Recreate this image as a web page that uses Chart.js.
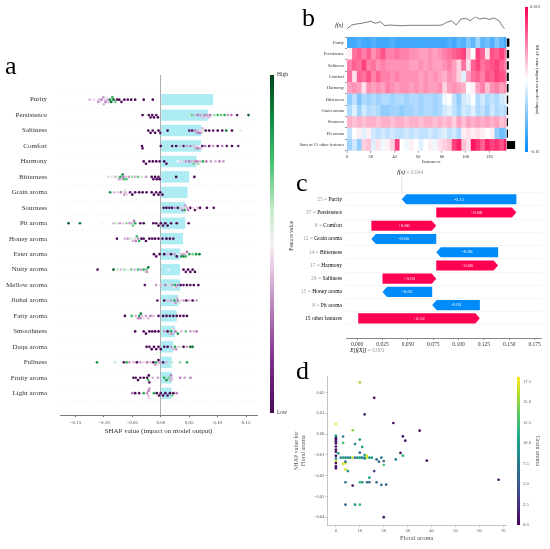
<!DOCTYPE html>
<html><head><meta charset="utf-8">
<script src="https://cdn.jsdelivr.net/npm/chart.js@4.4.1/dist/chart.umd.min.js"></script>
<style>
html,body{margin:0;padding:0;background:#fff;width:550px;height:549px;overflow:hidden;}
canvas{position:absolute;}
.lbl{position:absolute;font-family:'Liberation Serif',serif;line-height:1;white-space:nowrap;color:#000;}
</style></head><body>
<canvas id="ca" style="left:0px;top:60px" width="262" height="385"></canvas>
<canvas id="cacb" style="left:265px;top:60px" width="35" height="370"></canvas>
<canvas id="cbfx" style="left:340px;top:12px" width="175" height="22"></canvas>
<canvas id="cbh" style="left:285px;top:30px" width="235" height="140"></canvas>
<canvas id="cbcb" style="left:520px;top:0px" width="30" height="160"></canvas>
<canvas id="cc" style="left:285px;top:165px" width="262" height="195"></canvas>
<canvas id="cd" style="left:285px;top:365px" width="225" height="184"></canvas>
<canvas id="cdcb" style="left:510px;top:370px" width="40" height="165"></canvas>
<div class="lbl" style="left:5px;top:53px;font-size:26px">a</div>
<div class="lbl" style="left:302px;top:5px;font-size:26px">b</div>
<div class="lbl" style="left:296px;top:170px;font-size:26px">c</div>
<div class="lbl" style="left:296px;top:358px;font-size:26px">d</div>
<div class="lbl" style="left:324px;top:23px;font-size:5.5px;font-style:italic;width:19px;text-align:right">f(x)</div>
<div class="lbl" style="left:262px;top:233px;font-size:5.5px;color:#333;transform:rotate(-90deg);width:60px;text-align:center">Feature value</div>
<script>
// ---------------- DATA ----------------
// Panel a: SHAP summary (beeswarm) — feature order top to bottom
const aFeatures = ['Purity','Persistence','Saltiness','Comfort','Harmony','Bitterness','Grain aroma','Sourness','Pit aroma','Honey aroma','Ester aroma','Nutty aroma','Mellow aroma','Jiuhai aroma','Fatty aroma','Smoothness','Daqu aroma','Fullness','Fruity aroma','Light aroma'];
const aMeanAbs = [0.092,0.083,0.071,0.071,0.063,0.050,0.047,0.043,0.043,0.039,0.034,0.034,0.034,0.031,0.028,0.025,0.022,0.019,0.019,0.019];
const aTicks = [-0.15,-0.10,-0.05,0,0.05,0.10,0.15];
// [shap value, normalised feature value (0 low .. 1 high)]
const pPurity = [[-0.125,0.4],[-0.118,0.45],[-0.113,0.5],[-0.110,0.35],[-0.108,0.4],[-0.106,0.45],[-0.104,0.3],[-0.103,0.5],[-0.101,0.35],[-0.100,0.4],[-0.098,0.45],[-0.097,0.3],[-0.095,0.55],[-0.093,0.35],[-0.091,0.4],[-0.089,0.85],[-0.087,0.9],[-0.085,0.8],[-0.083,0.95],[-0.080,0.7],[-0.077,0.05],[-0.073,0],[-0.069,0.05],[-0.064,0],[-0.058,0.05],[-0.052,0],[-0.045,0],[-0.030,0],[-0.014,0]];
const pPersistence = [[-0.032,0],[-0.021,0],[-0.018,0.05],[-0.015,0],[-0.012,0],[-0.008,0.05],[-0.005,0],[0.050,0.6],[0.055,0.7],[0.060,0.4],[0.065,0.3],[0.070,0.35],[0.074,0.4],[0.077,0.3],[0.080,0.45],[0.082,0.35],[0.084,0.4],[0.087,0.3],[0.090,0.5],[0.094,0.65],[0.100,0.75],[0.106,0.7],[0.112,0.8],[0.118,0.35],[0.124,0.3],[0.134,0.1],[0.154,0.95]];
const pSaltiness = [[-0.022,0],[-0.018,0],[-0.014,0.05],[-0.010,0],[-0.004,0],[-0.001,0.05],[0.012,0],[0.050,0.1],[0.055,0.05],[0.060,0.3],[0.063,0.35],[0.065,0.4],[0.067,0.3],[0.069,0.45],[0.071,0.35],[0.073,0.4],[0.075,0.6],[0.079,0.05],[0.085,0],[0.092,0.1],[0.100,0],[0.108,0.05],[0.115,0.9],[0.125,0],[0.140,0.55]];
const pComfort = [[-0.033,0],[-0.032,0.05],[0.000,0],[0.020,0.05],[0.027,0],[0.034,0.4],[0.040,0.05],[0.046,0.35],[0.052,0.3],[0.058,0.4],[0.062,0.35],[0.064,0.45],[0.066,0.3],[0.068,0.5],[0.070,0.4],[0.073,0.05],[0.078,0.3],[0.085,0.05],[0.092,0.35],[0.100,0.05],[0.108,0.3],[0.116,0.05],[0.125,0],[0.136,0.1]];
const pHarmony = [[-0.030,0],[-0.026,0],[-0.020,0.05],[-0.014,0],[-0.008,0],[-0.002,0.05],[0.006,0],[0.010,0],[0.030,0.5],[0.036,0.45],[0.044,0.35],[0.050,0.3],[0.055,0.4],[0.058,0.7],[0.060,0.35],[0.062,0.45],[0.064,0.3],[0.066,0.65],[0.069,0.4],[0.074,0.8],[0.080,0.3],[0.088,0.35],[0.096,0.4],[0.103,0.3],[0.110,0.35]];
const pBitterness = [[-0.092,0.45],[-0.086,0.55],[-0.080,0.4],[-0.076,0.6],[-0.073,0.35],[-0.071,0.8],[-0.069,0.4],[-0.067,0.85],[-0.066,0.3],[-0.064,0.75],[-0.062,0.4],[-0.060,0.7],[-0.056,0.35],[-0.050,0.65],[-0.045,0.4],[-0.040,0.7],[-0.034,0.6],[-0.026,0.35],[-0.016,0],[-0.013,0.05],[-0.010,0],[-0.007,0],[-0.004,0.05],[-0.002,0],[0.027,0],[0.059,0]];
const pGrain = [[-0.089,0.85],[-0.082,0.4],[-0.076,0.45],[-0.070,0.3],[-0.066,0.5],[-0.064,0.35],[-0.063,0.55],[-0.062,0.4],[-0.060,0.45],[-0.054,0.1],[-0.050,0],[-0.045,0.05],[-0.038,0],[-0.032,0],[-0.025,0.05],[-0.016,0],[-0.012,0],[-0.008,0.05],[-0.004,0],[-0.001,0],[0.003,0.05]];
const pSourness = [[0.005,0.05],[0.010,0],[0.015,0.05],[0.020,0],[0.025,0.35],[0.030,0],[0.034,0.4],[0.038,0.3],[0.040,0.45],[0.042,0.8],[0.043,0.35],[0.044,0.5],[0.046,0.4],[0.048,0.3],[0.052,0],[0.056,0.45],[0.060,0.05],[0.065,0.4],[0.069,0],[0.081,0],[0.093,0.05]];
const pPit = [[-0.162,0.95],[-0.142,0.9],[-0.104,0.5],[-0.083,0.4],[-0.078,0.6],[-0.072,0.35],[-0.066,0.45],[-0.060,0.65],[-0.055,0.35],[-0.051,0.4],[-0.049,0.7],[-0.047,0.3],[-0.045,0.8],[-0.036,0.05],[-0.030,0],[-0.013,0],[-0.008,0.05],[-0.004,0],[0.000,0],[0.004,0.05],[0.008,0],[0.012,0],[0.018,0.05],[0.028,0],[0.049,0]];
const pHoney = [[-0.077,0.05],[-0.063,0.4],[-0.058,0.35],[-0.053,0.6],[-0.049,0.4],[-0.046,0.45],[-0.044,0.3],[-0.042,0.75],[-0.040,0.35],[-0.038,0.8],[-0.034,0],[-0.030,0.05],[-0.026,0],[-0.020,0],[-0.015,0.05],[-0.010,0],[-0.004,0],[0.003,0.05],[0.010,0],[0.016,0],[0.022,0.05]];
const pEster = [[-0.012,0],[-0.008,0.05],[-0.002,0],[0.006,0],[0.012,0.4],[0.018,0.05],[0.024,0.35],[0.028,0],[0.033,0.45],[0.036,0.8],[0.038,0.35],[0.040,0.9],[0.042,0.4],[0.044,0.75],[0.046,0.3],[0.050,0.8],[0.056,0.7],[0.062,0.85],[0.068,0.9]];
const pNutty = [[-0.111,0.05],[-0.083,0.95],[-0.076,0.6],[-0.070,0.4],[-0.064,0.65],[-0.058,0.55],[-0.052,0.7],[-0.046,0.4],[-0.040,0.75],[-0.035,0.35],[-0.030,0.8],[-0.027,0.45],[-0.025,0.7],[-0.024,0.35],[-0.022,0.9],[0.013,0.5],[0.040,0],[0.044,0.05],[0.048,0],[0.052,0],[0.056,0.05],[0.060,0]];
const pMellow = [[-0.028,0.05],[-0.008,0.35],[0.000,0.4],[0.008,0.3],[0.014,0.45],[0.020,0.35],[0.024,0.5],[0.025,0.8],[0.027,0.4],[0.030,0.3],[0.035,0],[0.040,0.05],[0.046,0],[0.052,0.05],[0.058,0],[0.066,0]];
const pJiuhai = [[-0.006,0.05],[0.006,0],[0.012,0.4],[0.018,0.35],[0.022,0.45],[0.024,0.8],[0.026,0.35],[0.028,0.4],[0.030,0.3],[0.032,0.6],[0.035,0.45],[0.040,0.35],[0.045,0.05],[0.050,0.4],[0.056,0],[0.063,0.35]];
const pFatty = [[-0.063,0],[-0.051,0.75],[-0.044,0.4],[-0.040,0.35],[-0.038,0.8],[-0.036,0.3],[-0.035,0.9],[-0.033,0.4],[-0.030,0.45],[-0.026,0.35],[-0.022,0.4],[-0.018,0.3],[-0.013,0.4],[-0.004,0.05],[0.004,0],[0.010,0],[0.016,0.05],[0.022,0],[0.028,0],[0.034,0.05],[0.040,0],[0.046,0]];
const pSmoothness = [[-0.045,0],[-0.030,0.05],[-0.026,0],[-0.020,0],[-0.015,0.05],[-0.010,0],[-0.004,0],[0.006,0.35],[0.012,0],[0.016,0.4],[0.018,0.8],[0.020,0.35],[0.022,0.45],[0.026,0.3],[0.030,0.85],[0.036,0.4],[0.044,0.7],[0.052,0.35],[0.058,0.4],[0.063,0.3]];
const pDaqu = [[-0.025,0],[-0.020,0.05],[-0.016,0],[-0.012,0],[-0.008,0.05],[-0.004,0],[0.000,0],[0.006,0.05],[0.012,0],[0.018,0.35],[0.022,0.4],[0.025,0.8],[0.027,0.35],[0.030,0.45],[0.034,0.6],[0.040,0],[0.046,0.35],[0.052,0.95],[0.056,0.9]];
const pFullness = [[-0.112,0.85],[-0.080,0.6],[-0.065,0.05],[-0.060,0.8],[-0.055,0.35],[-0.048,0.4],[-0.042,0],[-0.036,0.35],[-0.030,0.45],[-0.024,0.3],[-0.018,0.4],[-0.013,0],[-0.010,0.35],[-0.008,0.8],[-0.006,0.45],[-0.004,0],[-0.002,0.35],[0.004,0.05],[0.010,0.4],[0.020,0.6],[0.034,0.65],[0.046,0.8]];
const pFruity = [[-0.048,0],[-0.044,0.05],[-0.040,0],[-0.036,0.05],[-0.030,0],[-0.024,0],[-0.022,0.75],[-0.021,0],[-0.020,0.1],[-0.014,0.4],[-0.010,0.5],[-0.005,0.35],[0.006,0.8],[0.010,0.85],[0.014,0.7],[0.017,0.35],[0.018,0.3],[0.019,0.4],[0.020,0.45],[0.034,0.3],[0.042,0.35],[0.052,0.3]];
const pLight = [[-0.050,0.3],[-0.045,0],[-0.038,0.05],[-0.030,0.8],[-0.024,0.35],[-0.022,0.4],[-0.0215,0.3],[-0.021,0.45],[-0.020,0.35],[-0.012,0.8],[-0.007,0],[-0.003,0],[0.000,0.05],[0.004,0],[0.008,0],[0.012,0.05],[0.016,0],[0.020,0.7],[0.022,0],[0.028,0.3]];
const aSwarms = [pPurity,pPersistence,pSaltiness,pComfort,pHarmony,pBitterness,pGrain,pSourness,pPit,pHoney,pEster,pNutty,pMellow,pJiuhai,pFatty,pSmoothness,pDaqu,pFullness,pFruity,pLight];

// Panel b: heatmap (34 blocks of 4 instances each, 134 instances)
const bRows = ['Purity','Persistence','Saltiness','Comfort','Harmony','Bitterness','Grain aroma','Sourness','Pit aroma','Sum of 15 other features'];
const nInstances = 134;
const hPurity = [-0.12,-0.12,-0.11,-0.12,-0.12,-0.11,-0.12,-0.12,-0.12,-0.11,-0.12,-0.12,-0.12,-0.12,-0.12,-0.12,-0.12,-0.12,-0.12,-0.12,-0.12,-0.11,-0.12,-0.10,-0.11,-0.08,-0.10,-0.06,-0.10,-0.09,-0.11,-0.08,-0.10,-0.12];
const hPersistence = [0.01,0.09,0.10,0.08,0.10,0.07,0.09,0.11,0.08,0.08,0.09,0.08,0.08,0.07,0.07,0.06,0.06,0.07,0.06,0.07,0.08,0.09,0.10,0.11,0.12,0.04,0.00,0.12,0.10,0.02,0.11,0.10,0.12,0.09];
const hSaltiness = [0.08,0.10,0.09,0.12,0.08,0.09,0.07,0.08,0.07,0.07,0.07,0.07,0.07,0.06,0.06,0.07,0.06,0.07,0.06,0.06,0.07,0.08,0.06,0.03,0.09,0.02,0.10,0.12,0.09,0.10,0.11,0.12,0.10,0.08];
const hComfort = [0.09,0.02,0.10,0.09,0.11,0.08,0.10,0.08,0.08,0.07,0.08,0.07,0.07,0.07,0.07,0.06,0.07,0.06,0.07,0.06,0.05,0.07,0.06,0.03,-0.02,0.06,0.09,0.10,0.08,0.11,0.10,0.12,0.11,0.10];
const hHarmony = [0.06,0.07,0.06,0.02,0.07,0.06,0.07,0.06,0.08,0.07,0.06,0.07,0.07,0.06,0.07,0.06,0.07,0.06,0.06,0.07,0.03,0.06,0.07,0.06,0.05,0.00,0.01,0.06,0.08,0.04,0.07,0.08,0.06,0.07];
const hBitterness = [-0.07,-0.04,-0.08,-0.05,-0.06,-0.05,-0.06,-0.05,-0.05,-0.06,-0.05,-0.05,-0.06,-0.05,-0.05,-0.06,-0.05,-0.05,-0.06,-0.05,-0.01,0.00,-0.04,-0.07,-0.03,-0.02,0.00,-0.05,-0.03,-0.05,-0.04,-0.05,-0.03,-0.02];
const hGrain = [-0.05,-0.02,-0.06,-0.03,-0.05,-0.04,-0.05,-0.07,-0.07,-0.06,-0.06,-0.07,-0.06,-0.06,-0.05,-0.06,-0.05,-0.05,-0.06,-0.05,-0.03,-0.02,-0.04,-0.06,-0.03,-0.04,-0.02,-0.05,-0.04,-0.06,-0.03,-0.05,-0.04,-0.05];
const hSourness = [0.05,0.04,0.05,0.04,0.05,0.05,0.04,0.05,0.05,0.04,0.05,0.05,0.04,0.05,0.05,0.04,0.05,0.05,0.04,0.05,0.04,0.05,0.03,0.06,0.04,0.06,0.05,0.06,0.05,0.06,0.05,0.06,0.04,0.05];
const hPit = [-0.04,0.00,0.01,-0.02,0.01,-0.03,-0.04,-0.03,-0.04,-0.03,-0.04,-0.04,-0.03,-0.04,-0.03,-0.04,-0.04,-0.03,-0.04,-0.03,-0.02,-0.04,-0.03,-0.05,0.01,0.02,0.01,0.02,0.01,0.00,0.01,-0.07,-0.09,-0.08];
const hOther = [-0.06,-0.03,-0.07,0.03,0.04,-0.02,0.02,-0.01,0.01,0.03,0.12,0.00,-0.01,0.01,0.00,-0.02,0.00,0.01,-0.01,0.02,0.03,0.04,0.12,0.14,0.04,0.02,0.15,0.13,0.10,0.14,0.12,0.13,0.11,0.14];
const bHeat = [hPurity,hPersistence,hSaltiness,hComfort,hHarmony,hBitterness,hGrain,hSourness,hPit,hOther];
const bImportance = [0.092,0.083,0.071,0.071,0.063,0.050,0.047,0.043,0.043,0.29];
const bTicks = [0,20,40,60,80,100,120];
const bColorMax = 0.1618;
// model output f(x) sampled every 4 instances (last at instance 133)
const fxVals = [0.005,0.060,0.075,0.085,0.100,0.115,0.085,0.110,0.050,0.060,0.055,0.050,0.050,0.055,0.055,0.055,0.055,0.055,0.055,0.055,0.060,0.100,0.125,0.060,0.150,0.160,0.125,0.185,0.150,0.165,0.145,0.165,0.125,0.015,0.000];

// Panel c: waterfall
const cFeatures = ['Purity','Persistence','Comfort','Grain aroma','Bitterness','Harmony','Saltiness','Honey aroma','Pit aroma','15 other features'];
const cFeatVals = ['25','37','6','12','14','17','29','15','8',''];
const cShap = [-0.113,0.079,0.064,-0.064,-0.061,0.061,0.053,-0.049,-0.047,0.120];
const cBase = 0.001;
const cTicks = [0,0.025,0.05,0.075,0.1,0.125,0.15,0.175];

// Panel d: dependence plot
const dFloral = [10,16,12,24,0,7,35,28,29, 0,0,0,0,0,0,0,0,0,0,0,0,0,0,0, 3,3,10,8,11,10,1, 2,3,4,5,6,7,8,9,10,11,12,13,14,15, 12,13,17,18,19,20,20,25,27,28,38,16,14,3,4,4,5,4,10,11,13,14,17,7,19,21,68,4,8,10,20,4,12,10];
const dShap = [0.0248,0.0174,0.0094,0.0053,0.0048,0.0018,0.0016,-0.0011,-0.0032, -0.0008,-0.0013,-0.0020,-0.0028,-0.0035,-0.0045,-0.0060,-0.0075,-0.0085,-0.0105,-0.0118,-0.0130,-0.0140,-0.0155,-0.0165, -0.0012,-0.0043,-0.0027,-0.0048,-0.0062,-0.0090,-0.0093, -0.0114,-0.0114,-0.0114,-0.0114,-0.0114,-0.0114,-0.0114,-0.0114,-0.0114,-0.0114,-0.0114,-0.0114,-0.0114,-0.0114, -0.0101,-0.0104,-0.0122,-0.0133,-0.0114,-0.0130,-0.0149,-0.0122,-0.0091,-0.0104,-0.0128,-0.0178,-0.0210,-0.0144,-0.0140,-0.0170,-0.0178,-0.0232,-0.0232,-0.0232,-0.0232,-0.0232,-0.0232,-0.0248,-0.0245,-0.0243,-0.0220,-0.0340,-0.0340,-0.0340,-0.0400,-0.0133,-0.0118,-0.0115];
const dGrain = [15.5,0.5,2,1,18,15,0.5,1,1, 11,10,1,0.5,1.5,0.5,1,0.5,1,0.5,9,17,1,0.5,1, 8,13,9,8,10,6,11, 9,10,8,9,8,17,7,8,9,7,10,17,9,10, 10,17,6,6,7,6,13,8,1,11,1,4,10,17,17.5,17,9,7,12,10,6,6,6,1,7,6,0.5,6,9,12,1,7,8,11];
const dXTicks = [0,10,20,30,40,50,60,70];
const dYTicks = [-0.04,-0.03,-0.02,-0.01,0,0.01,0.02];
const dCbTicks = [0,2.5,5,7.5,10,12.5,15,17.5];
const dGrainMax = 18.1;

// ---------------- HELPERS ----------------
const FONT = "'Liberation Serif', serif";
Chart.defaults.font.family = FONT;
Chart.defaults.animation = false;
Chart.defaults.events = [];
Chart.defaults.responsive = false;
Chart.defaults.maintainAspectRatio = false;
Chart.defaults.plugins.legend.display = false;
Chart.defaults.plugins.tooltip.enabled = false;
Chart.defaults.color = '#333';

const fixW = w => s => { s.width = w; s.paddingTop = 0; s.paddingBottom = 0; s.paddingLeft = 0; s.paddingRight = 0; };
const fixH = h => s => { s.height = h; s.paddingLeft = 0; s.paddingRight = 0; s.paddingTop = 0; s.paddingBottom = 0; };
const setTicks = arr => s => { s.ticks = arr.map(v => ({value: v})); };
const mfmt = (v, d) => { const s = Math.abs(v).toFixed(d); return (v < -1e-12 ? '\u2212' : '') + s; };

function hex2rgb(h){ return [parseInt(h.substr(1,2),16),parseInt(h.substr(3,2),16),parseInt(h.substr(5,2),16)]; }
function interp(stops, t){
  t = Math.max(0, Math.min(1, t));
  for (let i = 1; i < stops.length; i++) {
    if (t <= stops[i][0]) {
      const [t0,c0] = stops[i-1], [t1,c1] = stops[i];
      const f = (t - t0) / (t1 - t0), a = hex2rgb(c0), b = hex2rgb(c1);
      return `rgb(${Math.round(a[0]+(b[0]-a[0])*f)},${Math.round(a[1]+(b[1]-a[1])*f)},${Math.round(a[2]+(b[2]-a[2])*f)})`;
    }
  }
  return stops[stops.length-1][1];
}
const PRGN = [[0,'#4a0a55'],[0.15,'#7b2c8a'],[0.3,'#b57ab9'],[0.42,'#e2c2e0'],[0.5,'#f7f2f6'],[0.6,'#c5ebc9'],[0.75,'#3fbf6a'],[0.88,'#10883f'],[1,'#00441b']];
const VIRIDIS = [[0,'#440154'],[0.1,'#482475'],[0.2,'#414487'],[0.3,'#355f8d'],[0.4,'#2a788e'],[0.5,'#21918c'],[0.6,'#22a884'],[0.7,'#44bf70'],[0.8,'#7ad151'],[0.9,'#bddf26'],[1,'#fde725']];
const RWB = [[0,'#008bfb'],[0.5,'#ffffff'],[1,'#ff0051']];
const RED = '#ff0051', BLUE = '#008bfb';
function rwb(v){ return interp(RWB, 0.5 + 0.5 * v / bColorMax); }
function gradFill(stops){
  return (ctx) => {
    const ch = ctx.chart, a = ch.chartArea;
    if (!a) return 'transparent';
    const g = ch.ctx.createLinearGradient(0, a.bottom, 0, a.top);
    stops.forEach(([t,c]) => g.addColorStop(t, c));
    return g;
  };
}
// deterministic beeswarm layout: stack points with close SHAP values
function swarm(vals, binW, step, maxOff){
  const idx = vals.map((v,i)=>i).sort((a,b)=>vals[a]-vals[b]);
  const offs = new Array(vals.length).fill(0);
  let start = -Infinity, count = 0;
  for (const i of idx) {
    if (vals[i] - start > binW) { start = vals[i]; count = 0; }
    const k = count++;
    const o = k === 0 ? 0 : (k % 2 === 1 ? 1 : -1) * Math.ceil(k/2) * step;
    offs[i] = Math.max(-maxOff, Math.min(maxOff, o));
  }
  return offs;
}

// ---------------- PANEL a ----------------
const aPts = [], aCols = [];
aSwarms.forEach((pts, row) => {
  const offs = swarm(pts.map(p=>p[0]), 0.004, 0.15, 0.45);
  pts.forEach((p, j) => { aPts.push({x: p[0], y: row + offs[j]}); aCols.push(interp(PRGN, p[1])); });
});
new Chart(document.getElementById('ca'), {
  type: 'scatter',
  data: { datasets: [
    { type: 'scatter', data: aPts, pointBackgroundColor: aCols, pointRadius: 1.35, pointBorderWidth: 0, order: 1 },
    { type: 'bar', indexAxis: 'y', data: aMeanAbs.map((v,i)=>({x: v, y: i})), backgroundColor: '#aeecf3', borderWidth: 0, barPercentage: 0.74, categoryPercentage: 1, order: 2 }
  ]},
  options: {
    layout: { padding: { left: 0, top: 15, right: 5, bottom: 10 } },
    scales: {
      x: { type: 'linear', min: -0.177, max: 0.169, afterBuildTicks: setTicks(aTicks), afterFit: fixH(20),
           ticks: { callback: v => mfmt(v, 2), font: { size: 5 }, color: '#444', padding: 3, maxRotation: 0, autoSkip: false },
           grid: { drawOnChartArea: true, color: c => (c.tick && Math.abs(c.tick.value) < 1e-9) ? '#9a9a9a' : 'rgba(0,0,0,0)', lineWidth: 0.8, tickColor: '#444', tickLength: 2 },
           border: { display: true, color: '#555', width: 0.8 },
           title: { display: true, text: 'SHAP value (impact on model output)', font: { size: 7 }, color: '#333', padding: 0 } },
      y: { type: 'linear', reverse: true, min: -1.045, max: 19.861, afterBuildTicks: setTicks(aFeatures.map((_, i) => i)), afterFit: fixW(60),
           ticks: { callback: v => aFeatures[v] ?? '', font: { size: 7 }, color: '#333', padding: 13, autoSkip: false },
           grid: { drawTicks: false, color: 'rgba(0,0,0,0.10)', lineWidth: 0.5 },
           border: { display: false, dash: [1, 2] } }
    }
  }
});
// colorbar a
new Chart(document.getElementById('cacb'), {
  type: 'bar',
  data: { labels: [''], datasets: [{ data: [[0, 1]], backgroundColor: gradFill(PRGN), borderWidth: 0, barPercentage: 1, categoryPercentage: 1 }] },
  options: {
    layout: { padding: { left: 5, top: 15, right: 8.5, bottom: 17 } },
    scales: {
      x: { display: false },
      y: { position: 'right', min: 0, max: 1, afterBuildTicks: setTicks([0, 1]), afterFit: fixW(17.5),
           ticks: { callback: v => v === 1 ? 'High' : 'Low', font: { size: 5.5 }, color: '#333', padding: 3 },
           grid: { display: false, drawTicks: false }, border: { display: false } }
    }
  }
});

// ---------------- PANEL b ----------------
new Chart(document.getElementById('cbfx'), {
  type: 'line',
  data: { datasets: [{ data: fxVals.map((v,i)=>({x: Math.min(i*4, nInstances-1), y: v})), borderColor: '#444', borderWidth: 0.7, pointRadius: 0, tension: 0 }] },
  options: {
    layout: { padding: { left: 7, top: 4.7, right: 9, bottom: 5 } },
    scales: { x: { type: 'linear', display: false, min: 0, max: nInstances }, y: { display: false, min: 0, max: 0.185 } }
  }
});
const nBlocks = hPurity.length;
const heatSets = [];
for (let k = 0; k < nBlocks; k++) {
  heatSets.push({
    data: bRows.map(() => [k*4, Math.min(k*4+4, nInstances)]),
    backgroundColor: bHeat.map(row => rwb(row[k])),
    borderWidth: 0, barPercentage: 1, categoryPercentage: 1, grouped: false, xAxisID: 'x'
  });
}
heatSets.push({ data: bImportance.map(v => [0, v]), backgroundColor: '#000', borderWidth: 0, barPercentage: 0.72, categoryPercentage: 1, grouped: false, xAxisID: 'x2' });
new Chart(document.getElementById('cbh'), {
  type: 'bar',
  data: { labels: bRows, datasets: heatSets },
  options: {
    indexAxis: 'y',
    layout: { padding: { left: 0, top: 7, right: 4.5, bottom: 5.3 } },
    scales: {
      x: { type: 'linear', min: 0, max: 142, afterBuildTicks: setTicks(bTicks), afterFit: fixH(14),
           ticks: { font: { size: 4.5 }, color: '#333', padding: 1.5, maxRotation: 0, autoSkip: false },
           grid: { drawOnChartArea: false, tickLength: 2, tickColor: '#333', lineWidth: 0.5 }, border: { display: false },
           title: { display: true, text: 'Instances', font: { size: 5 }, color: '#333', padding: 0 } },
      x2: { type: 'linear', display: false, min: -5.45, max: 0.30 },
      y: { afterFit: fixW(62), ticks: { font: { size: 4.5 }, color: '#333', padding: 1, autoSkip: false },
           grid: { drawOnChartArea: false, tickLength: 2, tickColor: '#333', lineWidth: 0.5 }, border: { display: false } }
    }
  }
});
new Chart(document.getElementById('cbcb'), {
  type: 'bar',
  data: { labels: [''], datasets: [{ data: [[-bColorMax, bColorMax]], backgroundColor: gradFill(RWB), borderWidth: 0, barPercentage: 1, categoryPercentage: 1 }] },
  options: {
    layout: { padding: { left: 5, top: 7, right: 10, bottom: 8 } },
    scales: {
      x: { display: false },
      y: { position: 'right', min: -bColorMax, max: bColorMax, afterBuildTicks: setTicks([-bColorMax, bColorMax]), afterFit: fixW(12),
           ticks: { callback: v => mfmt(v, 4), font: { size: 4 }, color: '#333', padding: 2 },
           grid: { display: false, drawTicks: false }, border: { display: false },
           title: { display: true, text: 'SHAP value (impact on model output)', font: { size: 4.5 }, color: '#333', padding: 0 } }
    }
  }
});

// ---------------- PANEL c ----------------
const cRanges = new Array(cShap.length);
let cur = cBase;
for (let i = cShap.length - 1; i >= 0; i--) { cRanges[i] = [cur, cur + cShap[i]]; cur += cShap[i]; }
const cFx = cur;
const cFmt = v => (v >= 0 ? '+' : '-') + Math.abs(v).toFixed(2);
const waterfallPlugin = {
  id: 'waterfall',
  afterDatasetsDraw(chart) {
    const ctx = chart.ctx, xs = chart.scales.x, ys = chart.scales.y, area = chart.chartArea;
    const meta = chart.getDatasetMeta(0);
    ctx.save();
    const fxp = xs.getPixelForValue(cFx);
    ctx.strokeStyle = '#cfcfcf'; ctx.lineWidth = 0.6;
    ctx.beginPath(); ctx.moveTo(fxp, area.top - 1); ctx.lineTo(fxp, ys.getPixelForValue(-0.35)); ctx.stroke();
    meta.data.forEach((bar, i) => {
      const p = bar.getProps(['x','y','base','height'], true);
      const left = Math.min(p.x, p.base), right = Math.max(p.x, p.base), h2 = p.height / 2, y = p.y;
      const head = Math.min(4.5, right - left);
      ctx.beginPath();
      if (cShap[i] >= 0) {
        ctx.moveTo(left, y - h2); ctx.lineTo(right - head, y - h2); ctx.lineTo(right, y); ctx.lineTo(right - head, y + h2); ctx.lineTo(left, y + h2);
      } else {
        ctx.moveTo(right, y - h2); ctx.lineTo(left + head, y - h2); ctx.lineTo(left, y); ctx.lineTo(left + head, y + h2); ctx.lineTo(right, y + h2);
      }
      ctx.closePath(); ctx.fillStyle = cShap[i] >= 0 ? RED : BLUE; ctx.fill();
      ctx.fillStyle = '#fff'; ctx.font = `5px ${FONT}`; ctx.textAlign = 'center'; ctx.textBaseline = 'middle';
      ctx.fillText(cFmt(cShap[i]), (left + right) / 2, y);
    });
    const lx = area.left - 4;
    ctx.textBaseline = 'middle'; ctx.font = `5.5px ${FONT}`;
    cFeatures.forEach((name, i) => {
      const y = ys.getPixelForValue(i);
      ctx.textAlign = 'right'; ctx.fillStyle = '#000'; ctx.fillText(name, lx, y);
      if (cFeatVals[i]) { const w = ctx.measureText(name).width; ctx.fillStyle = '#999'; ctx.fillText(cFeatVals[i] + ' = ', lx - w, y); }
    });
    ctx.textAlign = 'left';
    let x0 = fxp - 4.5, yT = area.top - 5;
    ctx.font = `italic 5.5px ${FONT}`; ctx.fillStyle = '#000'; ctx.fillText('f(x)', x0, yT);
    let w0 = ctx.measureText('f(x)').width;
    ctx.font = `5.5px ${FONT}`; ctx.fillStyle = '#999'; ctx.fillText(' = ' + cFx.toFixed(3), x0 + w0, yT);
    const bp = xs.getPixelForValue(cBase), yB = area.bottom + 12.7;
    x0 = bp - 8;
    ctx.font = `italic 5.5px ${FONT}`; ctx.fillStyle = '#000'; ctx.fillText('E[f(X)]', x0, yB);
    w0 = ctx.measureText('E[f(X)]').width;
    ctx.font = `5.5px ${FONT}`; ctx.fillStyle = '#999'; ctx.fillText(' = ' + cBase.toFixed(3), x0 + w0, yB);
    ctx.restore();
  }
};
new Chart(document.getElementById('cc'), {
  type: 'bar',
  data: { datasets: [{ data: cRanges.map((r, i) => ({x: r, y: i})), backgroundColor: 'rgba(0,0,0,0)', borderWidth: 0, barPercentage: 0.76, categoryPercentage: 1 }] },
  options: {
    indexAxis: 'y',
    layout: { padding: { left: 3, top: 13, right: 5.3, bottom: 10 } },
    scales: {
      x: { type: 'linear', min: -0.011, max: 0.182, afterBuildTicks: setTicks(cTicks), afterFit: fixH(12),
           ticks: { callback: v => v.toFixed(3), font: { size: 5.5 }, color: '#333', padding: 1, maxRotation: 0, autoSkip: false },
           grid: { drawOnChartArea: false, tickLength: 2, tickColor: '#555', lineWidth: 0.6 }, border: { display: true, color: '#555', width: 0.7 } },
      y: { type: 'linear', reverse: true, min: -1.0, max: 9.88, afterBuildTicks: setTicks(cFeatures.map((_, i) => i)), afterFit: fixW(58),
           ticks: { display: false },
           grid: { drawTicks: false, color: 'rgba(0,0,0,0.07)', lineWidth: 0.5 }, border: { display: false } }
    }
  },
  plugins: [waterfallPlugin]
});

// ---------------- PANEL d ----------------
new Chart(document.getElementById('cd'), {
  type: 'scatter',
  data: { datasets: [{ data: dFloral.map((x, i) => ({x: x, y: dShap[i]})), pointBackgroundColor: dGrain.map(v => interp(VIRIDIS, v / dGrainMax)), pointRadius: 1.35, pointBorderWidth: 0 }] },
  options: {
    layout: { padding: { left: 3, top: 11.7, right: 3.3, bottom: 7 } },
    scales: {
      x: { type: 'linear', min: -3.6, max: 71.1, afterBuildTicks: setTicks(dXTicks), afterFit: fixH(17),
           ticks: { font: { size: 4.5 }, color: '#555', padding: 1, maxRotation: 0, autoSkip: false },
           grid: { drawOnChartArea: false, tickLength: 2, tickColor: '#999', lineWidth: 0.6 }, border: { display: true, color: '#aaa', width: 0.7 },
           title: { display: true, text: 'Floral aroma', font: { size: 6.5 }, color: '#555', padding: 0 } },
      y: { type: 'linear', min: -0.04375, max: 0.02755, afterBuildTicks: setTicks(dYTicks), afterFit: fixW(39.3),
           ticks: { callback: v => mfmt(v, 2), font: { size: 4.5 }, color: '#555', padding: 1, autoSkip: false },
           grid: { drawOnChartArea: false, tickLength: 2, tickColor: '#999', lineWidth: 0.6 }, border: { display: true, color: '#aaa', width: 0.7 },
           title: { display: true, text: ['SHAP value for', 'Floral aroma'], font: { size: 6 }, color: '#555', padding: { top: 5, bottom: 0 } } }
    }
  }
});
new Chart(document.getElementById('cdcb'), {
  type: 'bar',
  data: { labels: [''], datasets: [{ data: [[0, dGrainMax]], backgroundColor: gradFill(VIRIDIS), borderWidth: 0, barPercentage: 1, categoryPercentage: 1 }] },
  options: {
    layout: { padding: { left: 7, top: 6.7, right: 9, bottom: 10 } },
    scales: {
      x: { display: false },
      y: { position: 'right', min: 0, max: dGrainMax, afterBuildTicks: setTicks(dCbTicks), afterFit: fixW(21),
           ticks: { callback: v => v.toFixed(1), font: { size: 4.5 }, color: '#555', padding: 1.5 },
           grid: { display: false, drawTicks: true, tickLength: 1.5, tickColor: '#999' }, border: { display: false },
           title: { display: true, text: 'Grain aroma', font: { size: 6 }, color: '#555', padding: 0 } }
    }
  }
});
</script>
</body></html>
